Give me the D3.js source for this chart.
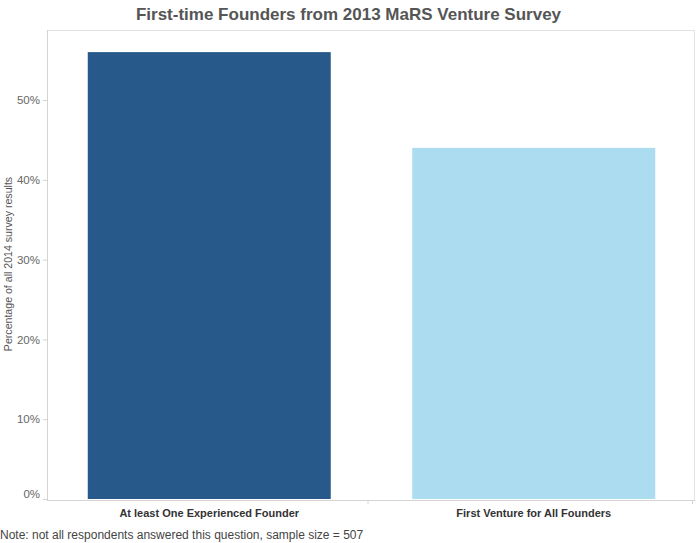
<!DOCTYPE html>
<html>
<head>
<meta charset="utf-8">
<script src="https://cdn.jsdelivr.net/npm/d3@7"></script>
<style>
  body { margin:0; background:#fff; }
  svg text { font-family: "Liberation Sans", Arial, sans-serif; }
</style>
</head>
<body>
<svg id="chart" width="697" height="543"></svg>
<script>
const categories = ["At least One Experienced Founder", "First Venture for All Founders"];
const values = [0.56, 0.44];
const barColors = ["#275a8b", "#abdcef"];
const yTicks = [0, 0.1, 0.2, 0.3, 0.4, 0.5];

const W = 697, H = 543;
const m = { top: 30, right: 1, bottom: 43, left: 47 };
const svg = d3.select("#chart");

const x = d3.scaleBand().domain(categories).range([m.left, W - m.right]);
const y = d3.scaleLinear().domain([0, 0.5]).range([H - m.bottom - 1, 100]);

// plot frame (top + right)
svg.append("path")
  .attr("d", `M${m.left},${m.top + 0.5} H${W - m.right - 1.5} V${H - m.bottom}`)
  .attr("fill", "none").attr("stroke", "#e3e3e3");

// bars
const bw = 243;
svg.append("g").selectAll("rect").data(categories).enter().append("rect")
  .attr("x", d => x(d) + (x.bandwidth() - bw) / 2)
  .attr("width", bw)
  .attr("y", (d, i) => y(values[i]))
  .attr("height", (d, i) => y(0) - y(values[i]))
  .attr("fill", (d, i) => barColors[i]);

// y axis
const yAxis = svg.append("g").attr("transform", `translate(${m.left},0)`)
  .call(d3.axisLeft(y).tickValues(yTicks).tickFormat(d3.format(".0%")).tickSize(4).tickPadding(3));
yAxis.select(".domain").attr("stroke", "#d4d4d4").attr("d", `M0.5,${m.top}V${y(0) + 1}`);
yAxis.selectAll(".tick line").attr("stroke", "#d4d4d4");
yAxis.selectAll(".tick text").attr("fill", "#666").style("font-size", "11.5px")
  .attr("dy", d => d === 0 ? "-0.1em" : "0.32em");

// x axis
const xAxis = svg.append("g").attr("transform", `translate(0,${y(0) + 1})`)
  .call(d3.axisBottom(x).tickSize(0).tickPadding(9));
xAxis.select(".domain").attr("stroke", "#d4d4d4").attr("d", `M${m.left},0.5H${W - m.right - 1}`);
xAxis.selectAll(".tick text").attr("fill", "#333").style("font-size", "11px").style("font-weight", "bold");
// category separators
svg.append("g").selectAll("line").data(categories).enter().append("line")
  .attr("x1", d => x(d) + x.bandwidth() - 3.5).attr("x2", d => x(d) + x.bandwidth() - 3.5)
  .attr("y1", y(0) + 1).attr("y2", y(0) + 5)
  .attr("stroke", "#d4d4d4");

// y axis title
svg.append("text")
  .attr("transform", `translate(12,264) rotate(-90)`)
  .attr("text-anchor", "middle").attr("fill", "#555").style("font-size", "10.6px")
  .text("Percentage of all 2014 survey results");

// title
svg.append("text")
  .attr("x", W / 2).attr("y", 20).attr("text-anchor", "middle")
  .attr("fill", "#555").style("font-size", "17px").style("font-weight", "bold")
  .text("First-time Founders from 2013 MaRS Venture Survey");

// note
svg.append("text")
  .attr("x", 0).attr("y", 539).attr("fill", "#444").style("font-size", "12px")
  .text("Note: not all respondents answered this question, sample size = 507");
</script>
</body>
</html>
